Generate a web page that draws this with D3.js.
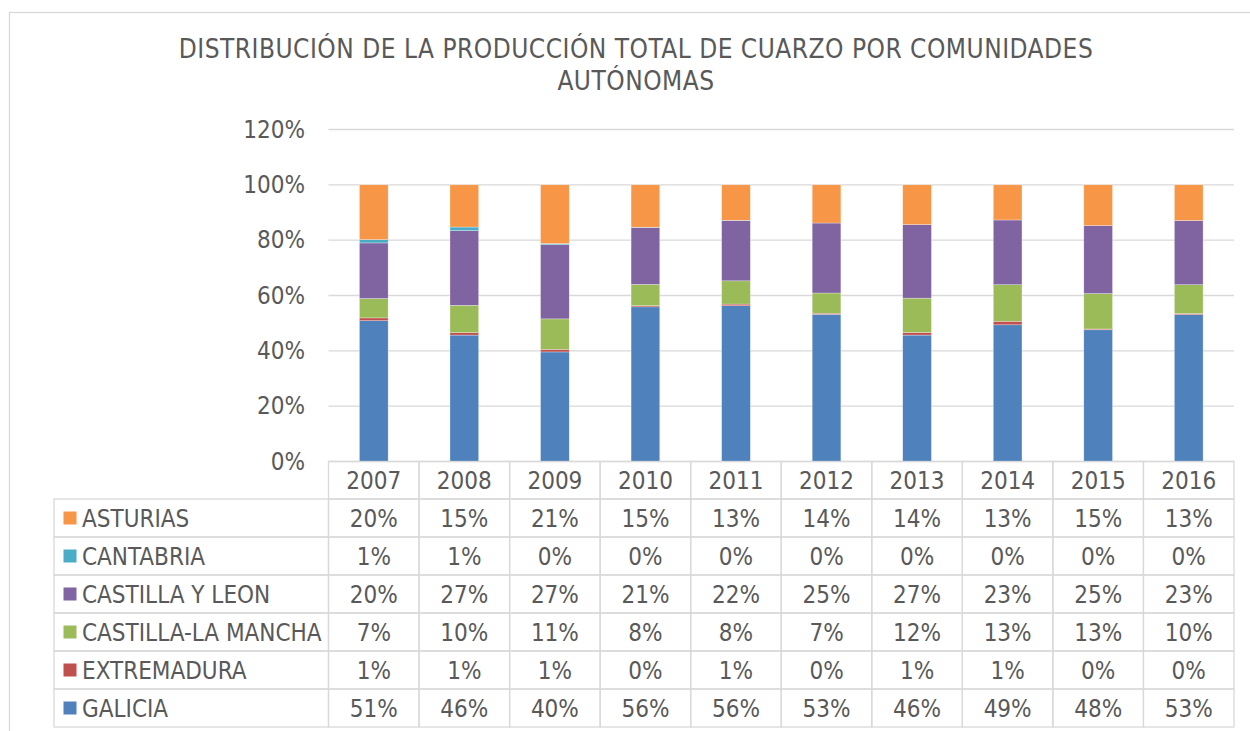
<!DOCTYPE html>
<html><head><meta charset="utf-8">
<script src="https://cdn.jsdelivr.net/npm/d3@7/dist/d3.min.js"></script>
<style>
html,body{margin:0;padding:0;background:#fff;}
svg text{font-family:"DejaVu Sans Condensed","DejaVu Sans",sans-serif;font-stretch:condensed;fill:#595959;}
</style></head>
<body><svg id="c" width="1250" height="731"></svg>
<script>
const title = ["DISTRIBUCIÓN DE LA PRODUCCIÓN TOTAL DE CUARZO POR COMUNIDADES", "AUTÓNOMAS"];
const years = ["2007","2008","2009","2010","2011","2012","2013","2014","2015","2016"];
const seriesNames = ["GALICIA","EXTREMADURA","CASTILLA-LA MANCHA","CASTILLA Y LEON","CANTABRIA","ASTURIAS"];
const seriesColors = ["#4F81BD","#C0504D","#9BBB59","#8064A2","#4BACC6","#F79646"];
const galicia          = [50.9, 45.7, 39.6, 55.9, 56.3, 53.2, 45.7, 49.4, 47.6, 53.1];
const extremadura      = [1.0, 0.85, 0.95, 0.4, 0.6, 0.4, 0.95, 1.3, 0.3, 0.4];
const castillaLaMancha = [7.0, 9.9, 11.0, 7.7, 8.4, 7.3, 12.4, 13.2, 12.8, 10.4];
const castillaYLeon    = [20.1, 27.0, 26.8, 20.6, 21.8, 25.3, 26.6, 23.4, 24.6, 23.2];
const cantabria        = [1.2, 1.3, 0.4, 0.1, 0.1, 0.0, 0.0, 0.0, 0.0, 0.0];
const asturias         = [19.8, 15.25, 21.25, 15.3, 12.8, 13.8, 14.35, 12.7, 14.7, 12.9];
const yTicks = [0, 20, 40, 60, 80, 100, 120];

const seriesValues = [galicia, extremadura, castillaLaMancha, castillaYLeon, cantabria, asturias];
const rows = years.map((y, i) => {
  const o = {year: y};
  seriesNames.forEach((n, k) => o[n] = seriesValues[k][i]);
  return o;
});

const svg = d3.select("#c");
const grey = "#d9d9d9";
const fs = 24;

// outer frame
svg.append("rect").attr("x", 9.5).attr("y", 12.5).attr("width", 1260).attr("height", 740)
  .attr("fill", "#fff").attr("stroke", grey).attr("stroke-width", 1.3);

// title
svg.append("text").attr("x", 636).attr("y", 58).attr("text-anchor", "middle")
  .style("font-size", "26px").style("letter-spacing", "0.5px").text(title[0]);
svg.append("text").attr("x", 636).attr("y", 90).attr("text-anchor", "middle")
  .style("font-size", "26px").style("letter-spacing", "0.5px").text(title[1]);

const plotL = 328.5, plotR = 1234;
const x = d3.scaleBand().domain(years).range([plotL, plotR]).paddingInner(0.683).paddingOuter(0.3415);
const cell = d3.scaleBand().domain(years).range([plotL, plotR]);
const y = d3.scaleLinear().domain([0, 120]).range([461.5, 129.5]);

// gridlines
svg.append("g").selectAll("line").data(yTicks).join("line")
  .attr("x1", plotL).attr("x2", plotR)
  .attr("y1", d => y(d)).attr("y2", d => y(d))
  .attr("stroke", grey).attr("stroke-width", 1.3);

// y axis labels
const yAxis = d3.axisLeft(y).tickValues(yTicks).tickFormat(d => d + "%").tickSize(0).tickPadding(0);
const ga = svg.append("g").attr("transform", "translate(305,0)").call(yAxis);
ga.select(".domain").remove();
ga.selectAll("text").style("font-size", fs + "px").attr("fill", "#595959").style("font-family", null);

// stacked bars
const stack = d3.stack().keys(seriesNames)(rows);
svg.append("g").selectAll("g").data(stack).join("g")
  .attr("fill", (d, i) => seriesColors[i])
  .selectAll("rect").data(d => d).join("rect")
  .attr("x", d => x(d.data.year)).attr("width", x.bandwidth())
  .attr("y", d => y(d[1])).attr("height", d => Math.max(0, y(d[0]) - y(d[1])))
  .attr("stroke", "#fff").attr("stroke-width", 0.5).attr("stroke-opacity", 0.6);

// data table
const rowH = 38, headTop = 461.5, headBot = 499;
const legL = 54;
const tableRows = seriesNames.map((n, k) => ({name: n, color: seriesColors[k], vals: seriesValues[k]})).reverse();
const rowY = d3.scaleBand().domain(tableRows.map(r => r.name)).range([headBot, headBot + rowH * tableRows.length]);
const tg = svg.append("g");
// header row cells
tg.selectAll("rect.h").data(years).join("rect").attr("class", "h")
  .attr("x", d => cell(d)).attr("y", headTop).attr("width", cell.bandwidth()).attr("height", headBot - headTop)
  .attr("fill", "none").attr("stroke", grey).attr("stroke-width", 1.3);
tg.selectAll("text.h").data(years).join("text").attr("class", "h")
  .attr("x", d => cell(d) + cell.bandwidth() / 2).attr("y", (headTop + headBot) / 2 + 8.5)
  .attr("text-anchor", "middle").style("font-size", fs + "px").text(d => d);
// body rows
const rg = tg.selectAll("g.r").data(tableRows).join("g").attr("class", "r");
rg.append("rect").attr("x", legL).attr("y", d => rowY(d.name)).attr("width", plotL - legL).attr("height", rowH)
  .attr("fill", "none").attr("stroke", grey).attr("stroke-width", 1.3);
rg.append("rect").attr("x", 63.5).attr("y", d => rowY(d.name) + rowH / 2 - 6.5).attr("width", 13).attr("height", 13)
  .attr("fill", d => d.color);
rg.append("text").attr("x", 82).attr("y", d => rowY(d.name) + rowH / 2 + 8.5)
  .style("font-size", fs + "px").text(d => d.name);
rg.each(function(r) {
  const g = d3.select(this);
  g.selectAll("rect.v").data(years).join("rect").attr("class", "v")
    .attr("x", d => cell(d)).attr("y", rowY(r.name)).attr("width", cell.bandwidth()).attr("height", rowH)
    .attr("fill", "none").attr("stroke", grey).attr("stroke-width", 1.3);
  g.selectAll("text.v").data(r.vals).join("text").attr("class", "v")
    .attr("x", (d, i) => cell(years[i]) + cell.bandwidth() / 2).attr("y", rowY(r.name) + rowH / 2 + 8.5)
    .attr("text-anchor", "middle").style("font-size", fs + "px").text(d => Math.round(d) + "%");
});
</script></body></html>
